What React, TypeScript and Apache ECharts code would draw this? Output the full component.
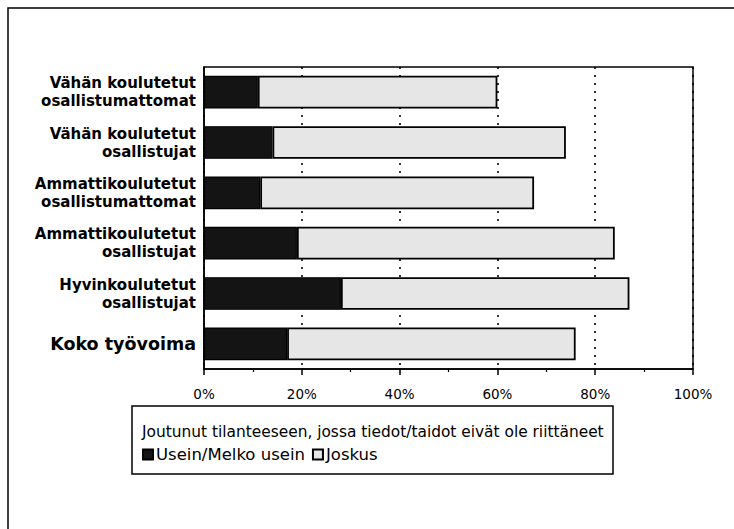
import React, { useEffect, useRef } from "react";
import * as echarts from "echarts";

const categories = [
  "Vähän koulutetut\nosallistumattomat",
  "Vähän koulutetut\nosallistujat",
  "Ammattikoulutetut\nosallistumattomat",
  "Ammattikoulutetut\nosallistujat",
  "Hyvinkoulutetut\nosallistujat",
  "Koko työvoima",
];
const useinValues = [11, 14, 11.5, 19, 28, 17];
const joskusValues = [49, 60, 56, 65, 59, 59];
const seriesNames = ["Usein/Melko usein", "Joskus"];
const legendTitle = "Joutunut tilanteeseen, jossa tiedot/taidot eivät ole riittäneet";
const xTicks = [0, 20, 40, 60, 80, 100];

const FONT = "DejaVu Sans";

export default function App() {
  const ref = useRef<HTMLDivElement>(null);
  useEffect(() => {
    if (!ref.current) return;
    const chart = echarts.init(ref.current, null, { renderer: "svg" });
    chart.setOption({
      animation: false,
      backgroundColor: "#fff",
      textStyle: { fontFamily: FONT, color: "#000" },
      grid: {
        left: 204,
        right: 41,
        top: 67,
        bottom: 160,
        show: true,
        borderColor: "#000",
        borderWidth: 1.5,
        backgroundColor: "transparent",
      },
      xAxis: {
        type: "value",
        min: xTicks[0],
        max: xTicks[xTicks.length - 1],
        interval: 20,
        axisLine: { show: true, lineStyle: { color: "#000", width: 1.5 } },
        axisTick: { show: true, length: 6, lineStyle: { color: "#000", width: 1.5 } },
        minorTick: { show: true, splitNumber: 2, length: 3, lineStyle: { color: "#000", width: 1.2 } },
        axisLabel: {
          formatter: "{value}%",
          fontFamily: FONT,
          fontSize: 13.5,
          color: "#000",
          margin: 18,
        },
        splitLine: {
          show: true,
          lineStyle: { color: "#000", width: 1.6, type: [2, 6] },
        },
      },
      yAxis: {
        type: "category",
        inverse: true,
        data: categories,
        axisLine: { show: true, lineStyle: { color: "#000", width: 1.5 } },
        axisTick: { show: false },
        axisLabel: {
          margin: 8,
          fontFamily: FONT,
          fontSize: 15,
          fontWeight: "bold",
          color: "#000",
          lineHeight: 18,
          align: "right",
          formatter: (v: string) => (v === "Koko työvoima" ? "{k|" + v + "}" : v),
          rich: {
            k: { fontFamily: FONT, fontSize: 17.5, fontWeight: "bold", color: "#000", lineHeight: 20 },
          },
        },
      },
      legend: {
        left: 142,
        top: 446,
        orient: "horizontal",
        itemWidth: 10,
        itemHeight: 10,
        itemGap: 7,
        icon: "rect",
        padding: 0,
        textStyle: { fontFamily: FONT, fontSize: 16.5, color: "#000", padding: [0, 0, 0, -2] },
        data: seriesNames,
      },
      graphic: [
        {
          type: "rect",
          shape: { x: 8, y: 8, width: 760, height: 560 },
          style: { fill: "none", stroke: "#000", lineWidth: 1.5 },
          silent: true,
          z: -10,
        },
        {
          type: "rect",
          shape: { x: 132, y: 406, width: 481, height: 68 },
          style: { fill: "#fff", stroke: "#000", lineWidth: 1.5 },
          silent: true,
          z: -1,
        },
        {
          type: "text",
          x: 142,
          y: 432,
          style: {
            text: legendTitle,
            fontFamily: FONT,
            fontSize: 15.4,
            fill: "#000",
            verticalAlign: "middle",
            align: "left",
          },
          silent: true,
        },
      ],
      series: [
        {
          name: seriesNames[0],
          type: "bar",
          stack: "total",
          barCategoryGap: "35%",
          data: useinValues,
          itemStyle: { color: "#141414", borderColor: "#000", borderWidth: 1.2 },
        },
        {
          name: seriesNames[1],
          type: "bar",
          stack: "total",
          barCategoryGap: "35%",
          data: joskusValues,
          itemStyle: { color: "#e6e6e6", borderColor: "#000", borderWidth: 1.8 },
        },
      ],
    });
    return () => chart.dispose();
  }, []);
  return (
    <div
      ref={ref}
      style={{ position: "fixed", left: 0, top: 0, width: 734, height: 529, background: "#fff" }}
    />
  );
}
